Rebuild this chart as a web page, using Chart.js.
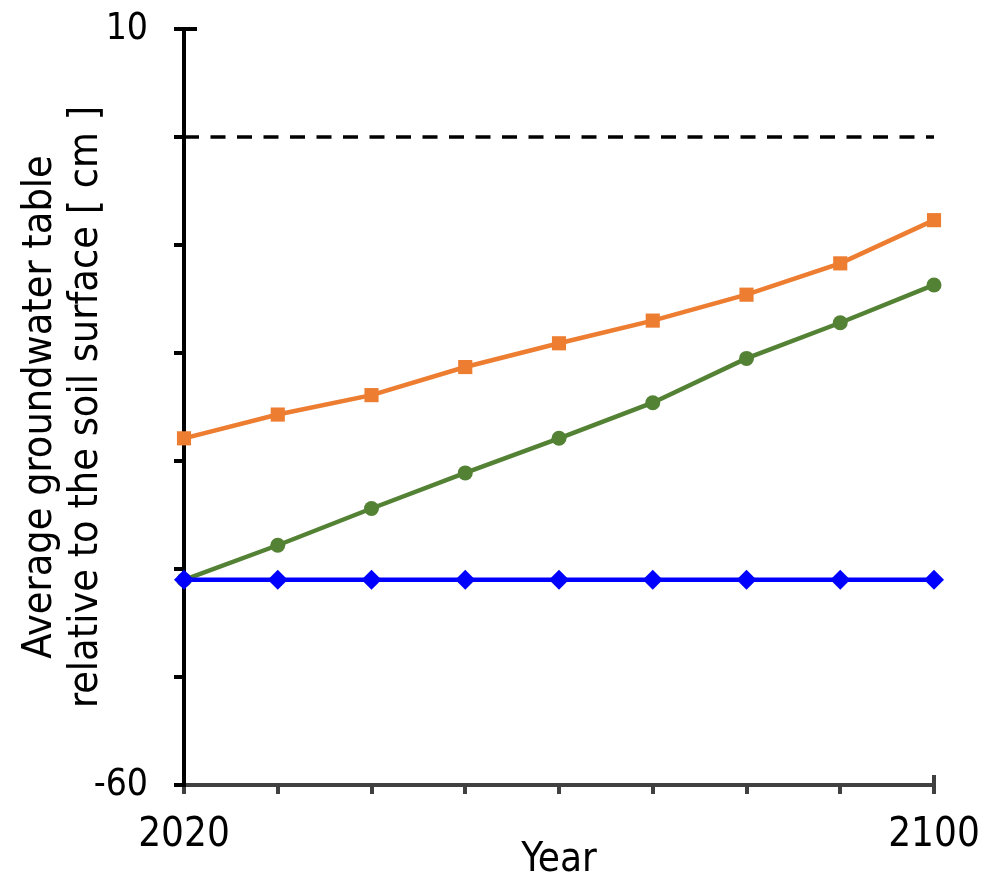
<!DOCTYPE html>
<html>
<head>
<meta charset="utf-8">
<script src="https://cdn.jsdelivr.net/npm/chart.js@4"></script>
<style>
  html, body { margin: 0; padding: 0; background: #fff; }
  #wrap { width: 990px; height: 878px; }
</style>
</head>
<body>
<div id="wrap"><canvas id="chart" width="990" height="878"></canvas></div>
<script>
// values
const years = [2020, 2030, 2040, 2050, 2060, 2070, 2080, 2090, 2100];
const orangeSeries = [-27.9, -25.7, -23.9, -21.3, -19.1, -17.0, -14.6, -11.7, -7.7];
const greenSeries = [-41.0, -37.8, -34.4, -31.1, -27.9, -24.6, -20.5, -17.2, -13.7];
const blueSeries = [-41, -41, -41, -41, -41, -41, -41, -41, -41];
const surfaceLevel = 0;
const xTickLabels = [2020, 2100];
const yTickLabels = [10, -60];

const font = "'DejaVu Sans Condensed', 'DejaVu Sans', sans-serif";

function pts(vals) {
    return years.map((y, i) => ({ x: y, y: vals[i] }));
}

// little ticks that cross the axes at the ends
const axisEnds = {
    id: "axisEnds",
    afterDraw(chart) {
        const ctx = chart.ctx;
        const x = chart.scales.x, y = chart.scales.y;
        ctx.save();
        ctx.lineWidth = 4;
        ctx.strokeStyle = "#000";
        ctx.beginPath();
        ctx.moveTo(x.left, y.top);
        ctx.lineTo(x.left + 13, y.top);
        ctx.stroke();
        ctx.strokeStyle = "#404040";
        ctx.beginPath();
        ctx.moveTo(x.right, y.bottom);
        ctx.lineTo(x.right, y.bottom - 10);
        ctx.stroke();
        ctx.restore();
    }
};

new Chart(document.getElementById("chart").getContext("2d"), {
    type: "line",
    data: {
        datasets: [
            {
                label: "blue",
                data: pts(blueSeries),
                borderColor: "#0000FF",
                backgroundColor: "#0000FF",
                borderWidth: 4.5,
                pointStyle: "rectRot",
                pointRadius: 10,
                pointBorderWidth: 0,
                clip: false
            },
            {
                label: "green",
                data: pts(greenSeries),
                borderColor: "#548235",
                backgroundColor: "#548235",
                borderWidth: 4.5,
                pointStyle: "circle",
                pointRadius: 7.5,
                pointBorderWidth: 0,
                clip: false
            },
            {
                label: "orange",
                data: pts(orangeSeries),
                borderColor: "#ED7D31",
                backgroundColor: "#ED7D31",
                borderWidth: 4.5,
                pointStyle: "rect",
                pointRadius: 10,
                pointBorderWidth: 0,
                clip: false
            },
            {
                label: "surface",
                data: [{ x: years[0], y: surfaceLevel }, { x: years[years.length - 1], y: surfaceLevel }],
                borderColor: "#000",
                borderWidth: 3.5,
                borderDash: [15, 11.5],
                pointRadius: 0
            }
        ]
    },
    options: {
        responsive: false,
        animation: false,
        layout: { padding: { top: 29, right: 56, left: 0, bottom: 0 } },
        plugins: { legend: { display: false }, tooltip: { enabled: false } },
        scales: {
            x: {
                type: "linear",
                min: 2020,
                max: 2100,
                afterFit(s) { s.height = 93; s.paddingLeft = 0; s.paddingRight = 0; },
                border: { color: "#404040", width: 4 },
                grid: { drawOnChartArea: false, color: "#404040", lineWidth: 4, tickLength: 9 },
                ticks: {
                    stepSize: 10,
                    autoSkip: false,
                    maxRotation: 0,
                    padding: 18,
                    color: "#000",
                    font: { family: font, size: 40 },
                    callback: v => xTickLabels.includes(v) ? String(v) : ""
                },
                title: {
                    display: true,
                    text: "Year",
                    color: "#000",
                    padding: { top: 0, bottom: -5 },
                    font: { family: font, size: 40, lineHeight: 1.1 }
                }
            },
            y: {
                min: -60,
                max: 10,
                afterFit(s) { s.width = 184; s.paddingTop = 0; s.paddingBottom = 0; },
                border: { color: "#000", width: 4 },
                grid: { drawOnChartArea: false, color: "#000", lineWidth: 4, tickLength: 10 },
                ticks: {
                    stepSize: 10,
                    autoSkip: false,
                    padding: 26,
                    color: "#000",
                    font: { family: font, size: 37 },
                    callback: v => yTickLabels.includes(v) ? String(v) : ""
                },
                title: {
                    display: true,
                    text: ["Average groundwater table", "relative to the soil surface [ cm ]"],
                    color: "#000",
                    padding: { top: 17, bottom: 0 },
                    font: { family: font, size: 41, lineHeight: 1.13 }
                }
            }
        }
    },
    plugins: [axisEnds]
});
</script>
</body>
</html>
